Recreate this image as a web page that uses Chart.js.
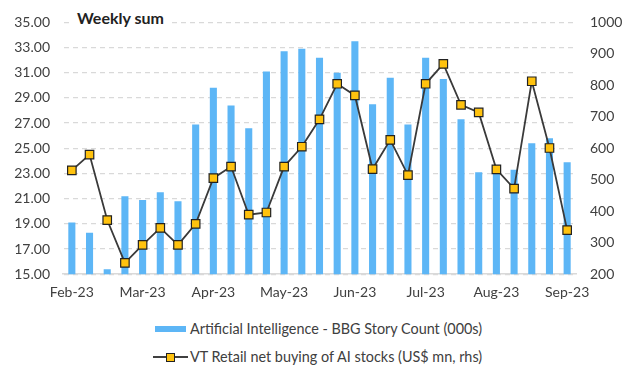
<!DOCTYPE html>
<html>
<head>
<meta charset="utf-8">
<script src="https://cdn.jsdelivr.net/npm/chart.js@4/dist/chart.umd.min.js"></script>
<style>
  html, body { margin: 0; padding: 0; background: #fff; }
  body { width: 634px; height: 371px; position: relative; overflow: hidden; font-family: Lato, "Open Sans", sans-serif; color: #404040; }
  #wrap { position: absolute; left: 0; top: 0; width: 634px; height: 311px; }
  #title { position: absolute; left: 73px; top: 8px; background: #fff; padding: 0 4px; font-weight: bold; font-size: 16px; color: #222; }
  .leg { position: absolute; left: 153px; font-size: 14.4px; display: flex; align-items: center; white-space: nowrap; }
  .leg .bar { width: 31px; height: 6px; background: #5DB6F6; margin-right: 4px; }
  .leg .line { width: 35px; height: 12px; position: relative; margin-right: 2px; }
  .leg .line::before { content: ''; position: absolute; left: 0; right: 0; top: 5px; height: 2px; background: #404040; }
  .leg .line::after { content: ''; position: absolute; left: 13px; top: 2px; width: 7px; height: 7px; background: #FFC20E; border: 1px solid #222; }
</style>
</head>
<body>
<div id="wrap"><canvas id="chart"></canvas></div>
<div id="title">Weekly sum</div>
<div class="leg" style="top: 320px; left: 155px;"><span class="bar"></span>Artificial Intelligence - BBG Story Count (000s)</div>
<div class="leg" style="top: 348px;"><span class="line"></span>VT Retail net buying of AI stocks (US$ mn, rhs)</div>
<script>
// ── data ──────────────────────────────────────────────────────────────
const weekLabels = [
  'Feb-23', '', '', '', 'Mar-23', '', '', '', 'Apr-23', '', '', '',
  'May-23', '', '', '', 'Jun-23', '', '', '', 'Jul-23', '', '', '',
  'Aug-23', '', '', '', 'Sep-23'
];
// AI story count, thousands (lhs)
const storyCount = [
  19.1, 18.3, 15.4, 21.2, 20.9, 21.5, 20.8, 26.9, 29.8, 28.4,
  26.6, 31.1, 32.7, 32.9, 32.2, 31.0, 33.5, 28.5, 30.6, 26.9,
  32.2, 30.5, 27.3, 23.1, 23.4, 23.3, 25.4, 25.8, 23.9
];
// VT retail net buying, US$ mn (rhs)
const retailBuying = [
  530, 580, 372, 236, 293, 347, 293, 360, 505, 542,
  389, 396, 542, 605, 692, 805, 768, 534, 627, 515,
  805, 868, 738, 714, 533, 472, 813, 601, 340
];
const leftTicks = { min: 15, max: 35, step: 2 };
const rightTicks = { min: 200, max: 1000, step: 100 };

// ── colors ────────────────────────────────────────────────────────────
const COLORS = {
  bar: '#5DB6F6',
  line: '#3A3A3A',
  marker: '#FFC20E',
  markerEdge: '#222222',
  text: '#404040',
  grid: '#D9D9D9',
};

Chart.defaults.font.family = 'Lato, "Open Sans", sans-serif';
Chart.defaults.color = COLORS.text;

const ctx = document.getElementById('chart').getContext('2d');
new Chart(ctx, {
  data: {
    labels: weekLabels,
    datasets: [
      {
        type: 'line',
        label: 'VT Retail net buying of AI stocks (US$ mn, rhs)',
        data: retailBuying,
        yAxisID: 'y1',
        order: 0,
        borderColor: COLORS.line,
        borderWidth: 1.8,
        pointStyle: 'rect',
        pointRadius: 6,
        pointBackgroundColor: COLORS.marker,
        pointBorderColor: COLORS.markerEdge,
        pointBorderWidth: 1.2,
        tension: 0,
      },
      {
        type: 'bar',
        label: 'Artificial Intelligence - BBG Story Count (000s)',
        data: storyCount,
        yAxisID: 'y',
        order: 1,
        backgroundColor: COLORS.bar,
        categoryPercentage: 1.0,
        barPercentage: 0.4,
      },
    ],
  },
  options: {
    responsive: true,
    maintainAspectRatio: false,
    animation: false,
    layout: { padding: { top: 10, bottom: 0, left: 0, right: 0 } },
    plugins: {
      legend: { display: false },
      tooltip: { enabled: false },
    },
    scales: {
      x: {
        offset: true,
        grid: { display: false, drawTicks: false },
        border: { display: true, color: COLORS.grid, width: 1.5 },
        ticks: {
          autoSkip: false,
          maxRotation: 0,
          padding: 10,
          font: { size: 14 },
        },
      },
      y: {
        position: 'left',
        min: leftTicks.min,
        max: leftTicks.max,
        afterFit: s => { s.width = 63; },
        grid: { color: COLORS.grid, lineWidth: 1.3, drawTicks: false, borderDash: [5, 4] },
        border: { display: true, color: 'rgba(0,0,0,0)', dash: [5, 4] },
        ticks: {
          stepSize: leftTicks.step,
          padding: 13,
          font: { size: 14 },
          callback: v => v.toFixed(2),
        },
      },
      y1: {
        position: 'right',
        min: rightTicks.min,
        max: rightTicks.max,
        afterFit: s => { s.width = 58; },
        grid: { display: false, drawTicks: false },
        border: { display: false },
        ticks: {
          stepSize: rightTicks.step,
          padding: 14,
          font: { size: 14 },
          callback: v => String(v),
        },
      },
    },
  },
});
</script>
</body>
</html>
